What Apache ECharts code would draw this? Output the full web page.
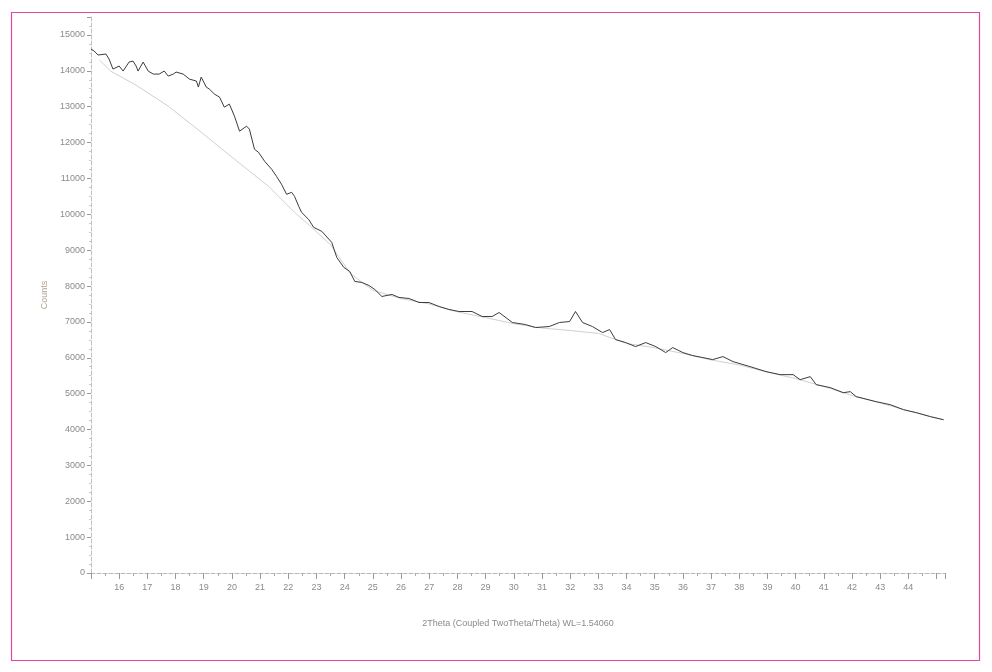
<!DOCTYPE html>
<html><head><meta charset="utf-8">
<script src="https://cdn.jsdelivr.net/npm/echarts@6/dist/echarts.min.js"></script>
<style>html,body{margin:0;padding:0;background:#fff}#c{width:992px;height:672px}</style>
</head><body><div id="c"></div>
<script>
const twoTheta = [15.00,15.11,15.25,15.53,15.64,15.78,16.00,16.14,16.35,16.49,16.60,16.67,16.85,17.03,17.21,17.42,17.60,17.74,17.92,18.02,18.27,18.49,18.74,18.81,18.91,19.09,19.20,19.38,19.56,19.73,19.91,20.09,20.27,20.52,20.62,20.80,20.94,21.16,21.41,21.58,21.76,21.94,22.12,22.22,22.37,22.47,22.72,22.90,23.19,23.54,23.72,23.97,24.18,24.36,24.61,24.86,25.07,25.32,25.68,25.93,26.28,26.64,26.99,27.35,27.70,28.06,28.52,28.88,29.23,29.48,29.95,30.41,30.77,31.26,31.62,31.98,32.19,32.44,32.79,33.15,33.40,33.61,33.97,34.32,34.68,35.04,35.39,35.64,36.00,36.35,36.71,37.06,37.42,37.78,38.38,38.95,39.45,39.91,40.16,40.52,40.73,41.23,41.69,41.94,42.15,42.86,43.36,43.83,44.29,44.79,45.25];
const counts = [14607,14552,14440,14468,14328,14049,14133,13993,14244,14272,14133,13993,14244,13993,13909,13909,13993,13853,13909,13965,13909,13769,13714,13546,13825,13546,13490,13351,13267,12987,13071,12736,12317,12457,12373,11814,11731,11479,11256,11060,10837,10558,10613,10502,10222,10055,9859,9636,9524,9217,8798,8519,8407,8128,8100,8016,7904,7709,7765,7681,7653,7541,7541,7429,7346,7290,7290,7150,7150,7262,6983,6927,6843,6871,6983,7010,7290,6983,6871,6703,6787,6508,6424,6312,6424,6312,6145,6284,6145,6061,6005,5949,6033,5893,5754,5614,5530,5530,5390,5474,5251,5167,5027,5055,4916,4776,4692,4553,4469,4357,4273];
const bgTheta = [15.3,15.7,16.6,17.74,18.91,20.09,21.30,22.22,22.83,23.5,24.2,25,26,27,28,29,30,31,32,33,34,35,36,37,38,39,40,41,42,43,44,45.25];
const bgCounts = [14300,13990,13600,13015,12289,11535,10781,10055,9636,9150,8350,7880,7650,7500,7280,7120,6950,6830,6760,6680,6400,6280,6120,5940,5800,5600,5420,5200,4950,4740,4520,4270];
const xTitle = '2Theta (Coupled TwoTheta/Theta) WL=1.54060';
const yTitle = 'Counts';

const chart = echarts.init(document.getElementById('c'));
const lab = {color:'#8a8a8a', fontSize:9, fontFamily:'Liberation Sans, Arial, sans-serif'};
chart.setOption({
  animation:false,
  backgroundColor:'#fff',
  grid:{left:91,right:47,top:17,bottom:99},
  graphic:[{type:'rect',shape:{x:11.5,y:12.5,width:968,height:648},style:{fill:'none',stroke:'#e2489c',lineWidth:1.2},silent:true}],
  xAxis:{type:'value',min:15,max:45.3,interval:1,
    name:xTitle,nameLocation:'middle',nameGap:46,nameTextStyle:Object.assign({},lab,{fontSize:9}),
    axisLine:{lineStyle:{color:'#b8b8b8',type:'dashed'}},
    axisTick:{show:true,length:6,lineStyle:{color:'#999'}},
    minorTick:{show:true,splitNumber:2,length:3,lineStyle:{color:'#aaa'}},
    splitLine:{show:false},
    axisLabel:Object.assign({},lab,{margin:10,formatter:v=>(Number.isInteger(v)&&v>15&&v<45)?String(v):''})},
  yAxis:{type:'value',min:0,max:15500,interval:1000,
    name:yTitle,nameLocation:'middle',nameGap:38,nameRotate:90,nameTextStyle:Object.assign({},lab,{color:'#b0a090'}),
    axisLine:{show:true,lineStyle:{color:'#c0c0c0',type:'dashed'}},
    axisTick:{show:true,length:4,lineStyle:{color:'#999'}},
    minorTick:{show:true,splitNumber:4,length:2,lineStyle:{color:'#ccc'}},
    splitLine:{show:false},
    axisLabel:Object.assign({},lab,{margin:6,formatter:v=>(v%1000===0)?String(v):''})},
  series:[
    {type:'line',data:bgTheta.map((x,i)=>[x,bgCounts[i]]),showSymbol:false,
      lineStyle:{color:'#d0d0d0',width:1},z:1},
    {type:'line',data:twoTheta.map((x,i)=>[x,counts[i]]),showSymbol:false,
      lineStyle:{color:'#3c3c3c',width:1},z:2}
  ]
});
</script></body></html>
